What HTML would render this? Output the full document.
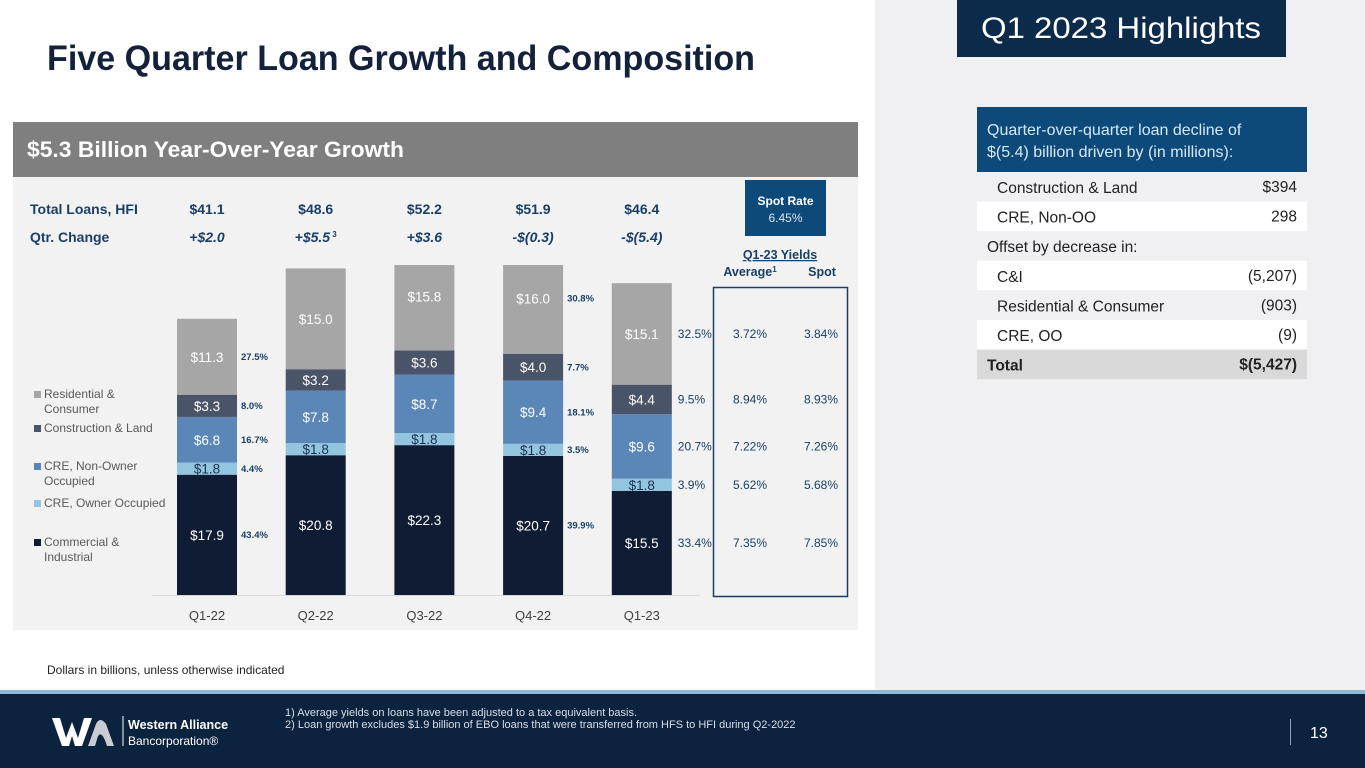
<!DOCTYPE html>
<html><head><meta charset="utf-8">
<style>
html,body{margin:0;padding:0;width:1365px;height:768px;overflow:hidden;background:#fff;font-family:"Liberation Sans",sans-serif;}
svg text{font-family:"Liberation Sans",sans-serif;}
</style></head>
<body>
<svg id="slide" width="1365" height="768" viewBox="0 0 1365 768" xmlns="http://www.w3.org/2000/svg">
<rect x="0" y="0" width="1365" height="768" fill="#ffffff"/>
<rect x="875" y="0" width="490" height="690" fill="#f0f0f2"/>
<text x="47" y="70" font-size="35" font-weight="bold" fill="#13213a" textLength="708" lengthAdjust="spacingAndGlyphs">Five Quarter Loan Growth and Composition</text>

<rect x="13" y="122" width="845" height="508" fill="#f2f2f2"/>
<rect x="13" y="122" width="845" height="55" fill="#7f7f7f"/>
<text x="27" y="157" font-size="22" font-weight="bold" fill="#fff" textLength="377" lengthAdjust="spacingAndGlyphs">$5.3 Billion Year-Over-Year Growth</text>

<text x="30" y="214" font-size="14" font-weight="bold" fill="#1a3f66">Total Loans, HFI</text>
<text x="30" y="242" font-size="14" font-weight="bold" fill="#1a3f66">Qtr. Change</text>
<g id="totals"></g>

<rect x="745" y="180" width="81" height="56" fill="#0d4a7a"/>
<text x="785.5" y="205" font-size="12" font-weight="bold" fill="#fff" text-anchor="middle">Spot Rate</text>
<text x="785.5" y="222" font-size="12" fill="#dde6f0" text-anchor="middle">6.45%</text>
<text x="780" y="259" font-size="12.5" font-weight="bold" fill="#1a3f66" text-anchor="middle" text-decoration="underline">Q1-23 Yields</text>
<text x="750" y="276" font-size="12.5" font-weight="bold" fill="#1a3f66" text-anchor="middle">Average<tspan font-size="8" dy="-4">1</tspan></text>
<text x="822" y="276" font-size="12.5" font-weight="bold" fill="#1a3f66" text-anchor="middle">Spot</text>
<rect x="713.5" y="287.5" width="134" height="309" fill="none" stroke="#1a3f66" stroke-width="1.5"/>

<g id="legend"></g>
<line x1="152" y1="595.5" x2="700" y2="595.5" stroke="#d9d9d9" stroke-width="1"/>
<g id="bars"></g>

<text x="47" y="674" font-size="12" fill="#222">Dollars in billions, unless otherwise indicated</text>

<rect x="0" y="690" width="1365" height="78" fill="#0c2340"/>
<rect x="0" y="690" width="1365" height="4" fill="#8fb8d8"/>
<g>
<path d="M52 718 L60 718 L66 738 L72 722 L78 738 L84 718 L92 718 L82 746 L75 746 L72 736 L69 746 L62 746 Z" fill="#fff"/>
<path d="M88 746 L96 724 Q100 716 106 724 L114 746 L107 746 Q102 730 98 736 L95 746 Z" fill="#c9ccd1"/>
<line x1="123" y1="716" x2="123" y2="746" stroke="#fff" stroke-width="1"/>
<text x="128" y="729" font-size="12.5" font-weight="bold" fill="#fff">Western Alliance</text>
<text x="128" y="745" font-size="12" fill="#fff">Bancorporation®</text>
</g>
<text x="285" y="716" font-size="11" fill="#d9dee6">1)  Average yields on loans have been adjusted to a tax equivalent basis.</text>
<text x="285" y="728" font-size="11" fill="#d9dee6">2)  Loan growth excludes $1.9 billion of EBO loans that were transferred from HFS to HFI during Q2-2022</text>
<line x1="1290.5" y1="719" x2="1290.5" y2="745" stroke="#8aa0b8" stroke-width="1"/>
<text x="1310" y="738" font-size="16" fill="#fff">13</text>

<rect x="957" y="0" width="329" height="57" fill="#0c2a4a"/>
<text x="1121" y="38" font-size="30" fill="#fff" text-anchor="middle" textLength="280" lengthAdjust="spacingAndGlyphs">Q1 2023 Highlights</text>
<rect x="977" y="107" width="330" height="65" fill="#0d4a7a"/>
<text x="987" y="135" font-size="16" fill="#d6e8f7">Quarter-over-quarter loan decline of</text>
<text x="987" y="157" font-size="16" fill="#d6e8f7">$(5.4) billion driven by (in millions):</text>
<g id="table"></g>
</svg>
<script>
const categories = ["Q1-22","Q2-22","Q3-22","Q4-22","Q1-23"];
const seriesNames = ["Commercial & Industrial","CRE, Owner Occupied","CRE, Non-Owner Occupied","Construction & Land","Residential & Consumer"];
const cni = [17.9,20.8,22.3,20.7,15.5];
const creOO = [1.8,1.8,1.8,1.8,1.8];
const creNOO = [6.8,7.8,8.7,9.4,9.6];
const construction = [3.3,3.2,3.6,4.0,4.4];
const residential = [11.3,15.0,15.8,16.0,15.1];
const totals = ["$41.1","$48.6","$52.2","$51.9","$46.4"];
const changes = ["+$2.0","+$5.5","+$3.6","-$(0.3)","-$(5.4)"];
const pctQ122 = [43.4,4.4,16.7,8.0,27.5];
const pctQ422 = [39.9,3.5,18.1,7.7,30.8];
const pctQ123 = [33.4,3.9,20.7,9.5,32.5];
const yieldAvg = ["7.35%","5.62%","7.22%","8.94%","3.72%"];
const yieldSpot = ["7.85%","5.68%","7.26%","8.93%","3.84%"];
const tableLabels = ["Construction & Land","CRE, Non-OO","Offset by decrease in:","C&I","Residential & Consumer","CRE, OO","Total"];
const tableValues = ["$394","298","","(5,207)","(903)","(9)","$(5,427)"];

const NS="http://www.w3.org/2000/svg";
function mk(tag,attrs,parent,txt){const e=document.createElementNS(NS,tag);for(const k in attrs)e.setAttribute(k,attrs[k]);if(txt!==undefined)e.textContent=txt;parent.appendChild(e);return e;}
const series=[cni,creOO,creNOO,construction,residential];
const colors=["#0f1c33","#93c5e0","#5a87b8","#4a5468","#a6a6a6"];
const labelColors=["#fff","#1a3350","#fff","#fff","#fff"];
const baseY=595, scale=6.72, barW=60, clipTop=265;
function xCenter(i){return 207+i*108.7;}
function yVal(v){return baseY - v*scale;}

const bars=document.getElementById('bars');
const segMid=[];
categories.forEach((c,i)=>{
  let cum=0; segMid[i]=[];
  series.forEach((s,k)=>{
    const v=s[i];
    const yRaw=yVal(cum+v), y1=yVal(cum);
    const clipped=yRaw<clipTop;
    const y0=Math.max(yRaw,clipTop);
    const r=mk('rect',{x:xCenter(i)-barW/2,y:y0,width:barW,height:y1-y0,fill:colors[k]},bars);
    
    
    const mid=(y0+y1)/2 - (clipped?11:0); segMid[i][k]=mid;
    const t=mk('text',{x:xCenter(i),y:mid+5,'font-size':13.5,fill:labelColors[k],'text-anchor':'middle'},bars,'$'+v.toFixed(1));
    
    
    cum+=v;
  });
  const xl=mk('text',{x:xCenter(i),y:620,'font-size':13,fill:'#404040','text-anchor':'middle'},bars,c);
  
  
  const tg=document.getElementById('totals');
  const tt=mk('text',{x:xCenter(i),y:214,'font-size':14,'font-weight':'bold',fill:'#1a3f66','text-anchor':'middle'},tg,totals[i]);
  
  
  const ct=mk('text',{x:xCenter(i),y:242,'font-size':14,'font-weight':'bold','font-style':'italic',fill:'#1a3f66','text-anchor':'middle'},tg,changes[i]);
  if(i===1){mk('tspan',{'font-size':8,dy:-5,'font-style':'normal'},ct,' 3');}
  
  
});
function pctCol(i,arr,size,dx){
  arr.forEach((p,k)=>{
    const t=mk('text',{x:xCenter(i)+barW/2+dx,y:segMid[i][k]+size/3,'font-size':size,'font-weight':size<11?'bold':'normal',fill:'#1a3f66'},bars,p.toFixed(1)+'%');
    
    
  });
}
pctCol(0,pctQ122,9.5,4);
pctCol(3,pctQ422,9.5,4);
pctCol(4,pctQ123,12,6);
yieldAvg.forEach((v,k)=>{
  const a=mk('text',{x:750,y:segMid[4][k]+4,'font-size':12,fill:'#1a3f66','text-anchor':'middle'},bars,v);
  
  
  const s=mk('text',{x:821,y:segMid[4][k]+4,'font-size':12,fill:'#1a3f66','text-anchor':'middle'},bars,yieldSpot[k]);
  
  
});
const lg=document.getElementById('legend');
const legendRows=[[397,["Residential &","Consumer"],4],[431,["Construction & Land"],3],[469,["CRE, Non-Owner","Occupied"],2],[506,["CRE, Owner Occupied"],1],[545,["Commercial &","Industrial"],0]];
legendRows.forEach(r=>{
  const g=mk('g',{},lg);
  
  
  mk('rect',{x:34,y:r[0]-6,width:7,height:7,fill:colors[r[2]]},g);
  r[1].forEach((l,j)=>mk('text',{x:44,y:r[0]+1+j*15,'font-size':12,fill:'#595959'},g,l));
});
const tb=document.getElementById('table');
tableLabels.forEach((l,k)=>{
  const y=172+k*29.6;
  const bg= k===6?'#d9d9d9':(k===1||k===3||k===5?'#ffffff':'#f0f0f2');
  mk('rect',{x:977,y:y,width:330,height:29.6,fill:bg},tb);
  const indent = (k===2||k===6)?987:997;
  const lt=mk('text',{x:indent,y:y+21,'font-size':15.5,fill:'#222','font-weight':k===6?'bold':'normal'},tb,l);
  
  
  if(tableValues[k]){
    const vt=mk('text',{x:1297,y:y+20,'font-size':15.5,fill:'#222','text-anchor':'end','font-weight':k===6?'bold':'normal'},tb,tableValues[k]);
    
    
  }
});
</script>
</body></html>
